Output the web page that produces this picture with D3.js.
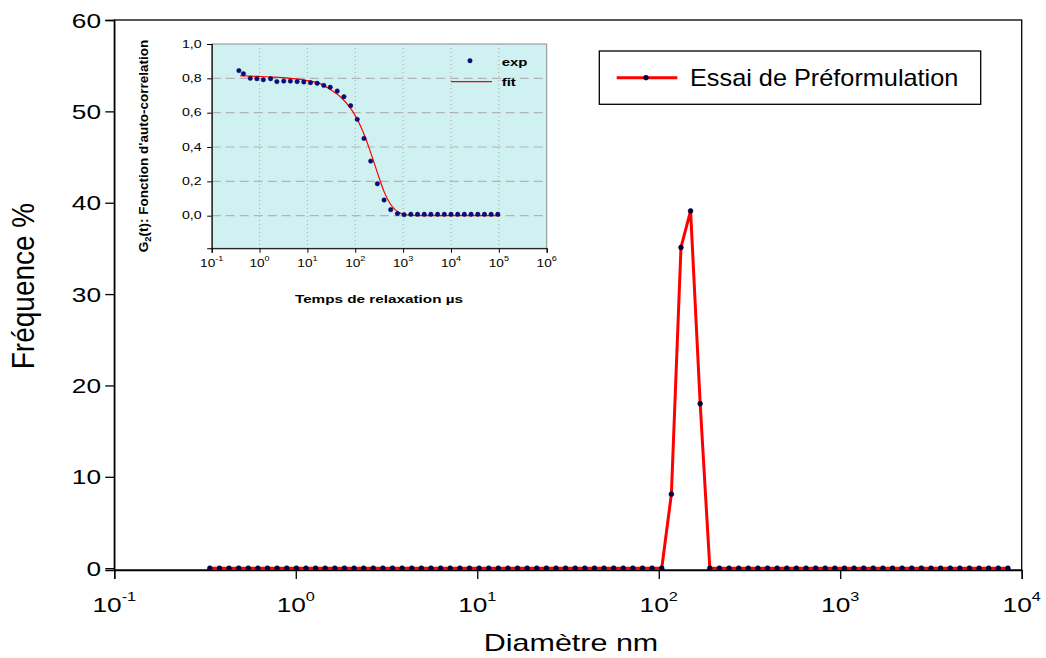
<!DOCTYPE html>
<html>
<head>
<meta charset="utf-8">
<script src="https://cdn.jsdelivr.net/npm/d3@7"></script>
<style>
  html, body { margin: 0; padding: 0; background: #fff; }
  svg { display: block; font-family: "Liberation Sans", Arial, sans-serif; }
</style>
</head>
<body>
<svg id="chart" width="1046" height="658"></svg>
<script>
// Size distribution: diameter classes (nm) and intensity frequency (%)
const diameters = [
  0.3360, 0.3796, 0.4288, 0.4844, 0.5473, 0.6183, 0.6985, 0.7891, 0.8915, 1.0074,
  1.1381, 1.2857, 1.4525, 1.641, 1.854, 2.095, 2.366, 2.673, 3.020, 3.412,
  3.855, 4.355, 4.920, 5.559, 6.280, 7.095, 8.015, 9.055, 10.23, 11.56,
  13.06, 14.75, 16.67, 18.83, 21.27, 24.03, 27.15, 30.67, 34.65, 39.15,
  44.23, 49.96, 56.45, 63.77, 72.04, 81.39, 91.95, 103.9, 117.4, 132.6,
  149.8, 169.2, 191.2, 216.0, 244.0, 275.7, 311.5, 351.9, 397.6, 449.2,
  507.5, 573.3, 647.7, 731.8, 826.7, 934.0, 1055, 1192, 1347, 1521,
  1719, 1942, 2194, 2479, 2800, 3164, 3574, 4038, 4560, 5152,
  5821, 6577, 7430, 8395
];
const frequency = [
  0, 0, 0, 0, 0, 0, 0, 0, 0, 0,
  0, 0, 0, 0, 0, 0, 0, 0, 0, 0,
  0, 0, 0, 0, 0, 0, 0, 0, 0, 0,
  0, 0, 0, 0, 0, 0, 0, 0, 0, 0,
  0, 0, 0, 0, 0, 0, 0, 0, 8.1, 35.1,
  39.1, 18.0, 0, 0, 0, 0, 0, 0, 0, 0,
  0, 0, 0, 0, 0, 0, 0, 0, 0, 0,
  0, 0, 0, 0, 0, 0, 0, 0, 0, 0,
  0, 0, 0, 0
];
const seriesName = "Essai de Préformulation";
const freqTicks = [0, 10, 20, 30, 40, 50, 60];
const diamTickExps = [-1, 0, 1, 2, 3, 4];

// Auto-correlation: delay times (µs), measured G2 and fitted curve
const tau = [
  0.37, 0.46, 0.64, 0.88, 1.2, 1.7, 2.3, 3.2, 4.4, 6.1,
  8.4, 11.6, 16, 22, 30, 42, 58, 80, 110, 152,
  210, 290, 400, 550, 760, 1050, 1450, 2000, 2760, 3800,
  5250, 7250, 10000, 13800, 19000, 26300, 36300, 50000, 69000, 95000
];
const g2Exp = [
  0.845, 0.827, 0.800, 0.798, 0.792, 0.798, 0.781, 0.784, 0.784, 0.781,
  0.779, 0.775, 0.771, 0.759, 0.748, 0.726, 0.693, 0.641, 0.561, 0.450,
  0.318, 0.186, 0.091, 0.035, 0.012, 0.006, 0.008, 0.008, 0.008, 0.008,
  0.008, 0.008, 0.008, 0.008, 0.008, 0.008, 0.008, 0.008, 0.008, 0.008
];
const tauFit = [0.39, 1, 2, 4, 10, 20, 30, 50, 80, 100, 130, 160, 200, 250, 320, 400, 520, 680, 870, 1200, 2000, 107000];
const g2Fit  = [0.815, 0.811, 0.807, 0.801, 0.787, 0.765, 0.735, 0.690, 0.625, 0.583, 0.520, 0.460, 0.385, 0.305, 0.215, 0.140, 0.075, 0.035, 0.015, 0.004, 0.0, 0.0];
const g2TickVals = [0, 0.2, 0.4, 0.6, 0.8, 1.0];
const g2TickLabels = ["0,0", "0,2", "0,4", "0,6", "0,8", "1,0"];
const tauTickExps = [-1, 0, 1, 2, 3, 4, 5, 6];

const svg = d3.select("#chart");

// Text helper: places a label with a horizontal stretch
function label(parent, x, y, str, opts) {
  const o = Object.assign({ size: 20, sx: 1, anchor: "start", weight: "normal", rotate: 0 }, opts || {});
  const g = parent.append("g")
    .attr("transform", `translate(${x},${y}) scale(${o.sx},1)` + (o.rotate ? ` rotate(${o.rotate})` : ""));
  const t = g.append("text")
    .attr("font-size", o.size)
    .attr("font-weight", o.weight)
    .attr("text-anchor", o.anchor)
    .attr("fill", "#000")
    .text(str);
  return t;
}
function powerLabel(parent, x, y, exp, opts) {
  const t = label(parent, x, y, "10", opts);
  t.append("tspan")
    .attr("font-size", opts.supSize)
    .attr("dy", opts.supDy)
    .text(String(exp));
  return t;
}

// ---------- main chart ----------
const M = { left: 114.3, right: 1021.7, top: 20, bottom: 570 };
const x = d3.scaleLog().domain([0.1, 10000]).range([M.left, M.right]);
const y = d3.scaleLinear().domain([-0.2, 60]).range([M.bottom, M.top]);

const main = svg.append("g");

// frame
main.append("rect")
  .attr("x", M.left).attr("y", M.top)
  .attr("width", M.right - M.left).attr("height", M.bottom - M.top)
  .attr("fill", "none").attr("stroke", "#000").attr("stroke-width", 1.3);

// y axis ticks + labels
const yAxis = d3.axisLeft(y).tickValues(freqTicks).tickSize(9).tickFormat("");
main.append("g").attr("transform", `translate(${M.left},0)`).call(yAxis)
  .call(g => g.select(".domain").attr("stroke", "#000").attr("stroke-width", 1.3))
  .call(g => g.selectAll(".tick line").attr("stroke", "#000").attr("stroke-width", 1.3));
freqTicks.forEach(v => {
  label(main, 101, y(v) + 7.5, String(v), { size: 21, sx: 1.25, anchor: "end" });
});

// x axis ticks + labels
const xAxis = d3.axisBottom(x).tickValues(diamTickExps.map(e => Math.pow(10, e))).tickSize(9).tickFormat("");
main.append("g").attr("transform", `translate(0,${M.bottom})`).call(xAxis)
  .call(g => g.select(".domain").attr("stroke", "#000").attr("stroke-width", 1.3))
  .call(g => g.selectAll(".tick line").attr("stroke", "#000").attr("stroke-width", 1.3));
diamTickExps.forEach(e => {
  powerLabel(main, x(Math.pow(10, e)), 612, e, { size: 21, sx: 1.25, anchor: "middle", supSize: 13, supDy: -11 });
});

// axis titles
label(main, 571, 651, "Diamètre nm", { size: 24, sx: 1.27, anchor: "middle" });
label(main, 34, 286, "Fréquence %", { size: 28, sx: 1.15, anchor: "middle", rotate: -90 });

// series
const pts = diameters.map((d, i) => [d, frequency[i]]);
main.append("path")
  .datum(pts)
  .attr("fill", "none").attr("stroke", "#ff0000").attr("stroke-width", 3)
  .attr("stroke-linejoin", "round")
  .attr("d", d3.line().x(d => x(d[0])).y(d => y(d[1])));
main.append("g").selectAll("circle").data(pts).join("circle")
  .attr("cx", d => x(d[0])).attr("cy", d => y(d[1])).attr("r", 2.4)
  .attr("fill", "#000050").attr("stroke", "#000").attr("stroke-width", 0.6);

// legend
const lg = main.append("g");
lg.append("rect").attr("x", 599.3).attr("y", 51).attr("width", 381.4).attr("height", 53.3)
  .attr("fill", "#fff").attr("stroke", "#000").attr("stroke-width", 1.3);
lg.append("line").attr("x1", 616.7).attr("x2", 677.3).attr("y1", 77.7).attr("y2", 77.7)
  .attr("stroke", "#ff0000").attr("stroke-width", 3);
lg.append("circle").attr("cx", 646).attr("cy", 77.7).attr("r", 2.4)
  .attr("fill", "#000050").attr("stroke", "#000").attr("stroke-width", 0.6);
label(lg, 690, 85.5, seriesName, { size: 23, sx: 1.1 });

// ---------- inset: auto-correlation ----------
const I = { left: 211.7, right: 546.7, top: 44, bottom: 248.3 };
const xi = d3.scaleLog().domain([0.1, 1e6]).range([I.left, I.right]);
const yi = d3.scaleLinear().domain([-0.19, 1.0]).range([I.bottom, I.top]);
const inset = svg.append("g");

inset.append("rect")
  .attr("x", I.left).attr("y", I.top)
  .attr("width", I.right - I.left).attr("height", I.bottom - I.top)
  .attr("fill", "#cff1f1").attr("stroke", "#8c8c8c").attr("stroke-width", 1);

// grid
inset.append("g").selectAll("line").data(g2TickVals.filter(v => v < 1)).join("line")
  .attr("x1", I.left).attr("x2", I.right)
  .attr("y1", d => yi(d)).attr("y2", d => yi(d))
  .attr("stroke", "#b4b4b4").attr("stroke-width", 1.2).attr("stroke-dasharray", "9,5");
inset.append("g").selectAll("line").data(tauTickExps.filter(e => e > -1 && e < 6)).join("line")
  .attr("x1", d => xi(Math.pow(10, d))).attr("x2", d => xi(Math.pow(10, d)))
  .attr("y1", I.top).attr("y2", I.bottom)
  .attr("stroke", "#a8a8a8").attr("stroke-width", 1).attr("stroke-dasharray", "1,3");

// axes
const yiAxis = d3.axisLeft(yi).tickValues(g2TickVals).tickSize(4.5).tickFormat("");
inset.append("g").attr("transform", `translate(${I.left},0)`).call(yiAxis)
  .call(g => g.select(".domain").attr("stroke", "#000").attr("stroke-width", 1.1))
  .call(g => g.selectAll(".tick line").attr("stroke", "#000"));
const xiAxis = d3.axisBottom(xi).tickValues(tauTickExps.map(e => Math.pow(10, e))).tickSize(4.5).tickFormat("");
inset.append("g").attr("transform", `translate(0,${I.bottom})`).call(xiAxis)
  .call(g => g.select(".domain").attr("stroke", "#000").attr("stroke-width", 1.1))
  .call(g => g.selectAll(".tick line").attr("stroke", "#000"));

g2TickVals.forEach((v, i) => {
  label(inset, 201.7, yi(v) + 3.8, g2TickLabels[i], { size: 10.5, sx: 1.35, anchor: "end" });
});
tauTickExps.forEach(e => {
  powerLabel(inset, xi(Math.pow(10, e)), 267, e, { size: 10.5, sx: 1.3, anchor: "middle", supSize: 7, supDy: -6 });
});

label(inset, 379, 302.7, "Temps de relaxation µs", { size: 11.5, sx: 1.33, anchor: "middle", weight: "bold" });
const yt = label(inset, 148, 146, "G", { size: 13.5, sx: 1.0, anchor: "middle", weight: "bold", rotate: -90 });
yt.append("tspan").attr("font-size", 9.5).attr("dy", 3).text("2");
yt.append("tspan").attr("dy", -3).text("(t): Fonction d'auto-correlation");

// fit curve
const fitPts = tauFit.map((t, i) => [t, g2Fit[i]]);
inset.append("path").datum(fitPts)
  .attr("fill", "none").attr("stroke", "#ff0000").attr("stroke-width", 1.2)
  .attr("d", d3.line().x(d => xi(d[0])).y(d => yi(d[1])).curve(d3.curveMonotoneX));

// measured points
const expPts = tau.map((t, i) => [t, g2Exp[i]]);
inset.append("g").selectAll("circle").data(expPts).join("circle")
  .attr("cx", d => xi(d[0])).attr("cy", d => yi(d[1])).attr("r", 2.2)
  .attr("fill", "#0a0a8c").attr("stroke", "#000033").attr("stroke-width", 0.5);

// inset legend
inset.append("circle").attr("cx", 470).attr("cy", 60.7).attr("r", 2.2)
  .attr("fill", "#0a0a8c").attr("stroke", "#000033").attr("stroke-width", 0.5);
label(inset, 501.7, 66, "exp", { size: 11.5, sx: 1.3, weight: "bold" });
inset.append("line").attr("x1", 451).attr("x2", 492).attr("y1", 81.7).attr("y2", 81.7)
  .attr("stroke", "#ff0000").attr("stroke-width", 1.2);
label(inset, 501.7, 86, "fit", { size: 11.5, sx: 1.3, weight: "bold" });
</script>
</body>
</html>
